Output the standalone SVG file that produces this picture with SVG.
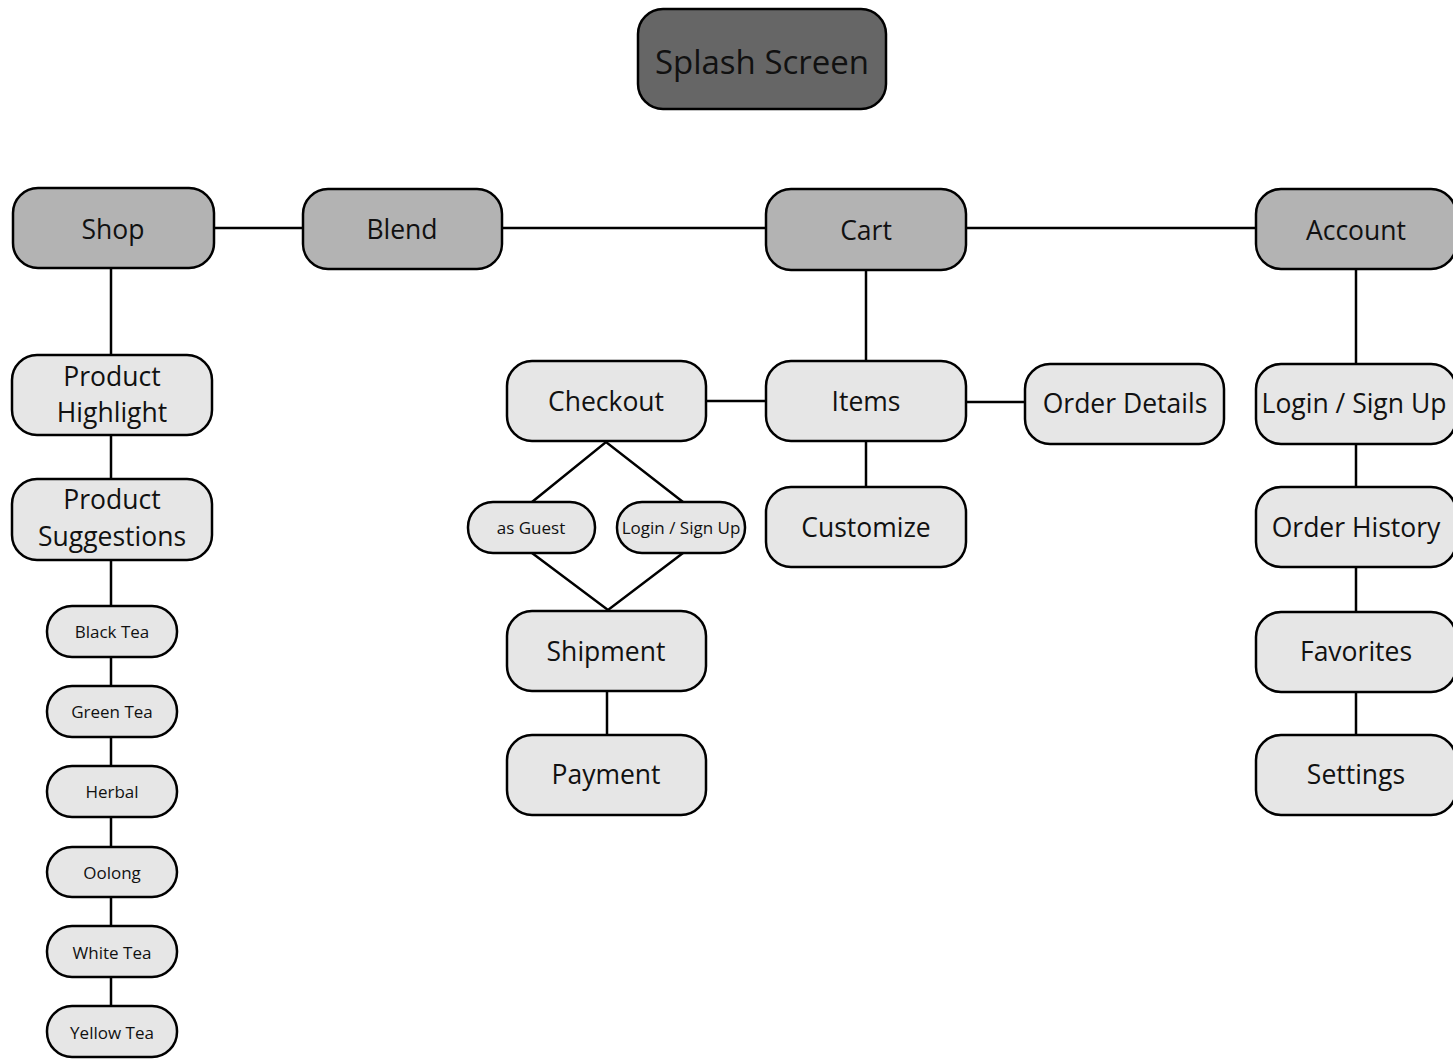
<svg xmlns="http://www.w3.org/2000/svg" width="1453" height="1059" viewBox="0 0 1453 1059">
<style>
.n rect{stroke:#000;stroke-width:2.5}
.d rect{fill:#666}
.m rect{fill:#b3b3b3}
.l rect{fill:#e6e6e6}
text{font-family:"Open Sans","Liberation Sans",sans-serif;fill:#111;text-anchor:middle;dominant-baseline:central}
.big{font-size:33px}
.mid{font-size:26.5px}
.sm{font-size:17px}
.c line,.c path{stroke:#000;stroke-width:2.5;fill:none}
</style>
<rect width="1453" height="1059" fill="#fff"/>
<g class="c" id="connectors">
<line x1="214" y1="228" x2="303" y2="228"/>
<line x1="502" y1="228" x2="766" y2="228"/>
<line x1="966" y1="228" x2="1256" y2="228"/>
<line x1="111" y1="268" x2="111" y2="355"/>
<line x1="111" y1="435" x2="111" y2="479"/>
<line x1="111" y1="560" x2="111" y2="1006"/>
<line x1="866" y1="270" x2="866" y2="361"/>
<line x1="706" y1="401" x2="766" y2="401"/>
<line x1="966" y1="402" x2="1025" y2="402"/>
<line x1="866" y1="441" x2="866" y2="487"/>
<line x1="1356" y1="269" x2="1356" y2="364"/>
<line x1="1356" y1="444" x2="1356" y2="735"/>
<path d="M532 502 L606 442 L683 502"/>
<path d="M532 553 L608 610 L683 553"/>
<line x1="607" y1="691" x2="607" y2="735"/>
</g>
<g id="splash" class="n d"><rect x="638" y="9" width="248" height="100" rx="25"/><text class="big" x="762" y="61">Splash Screen</text></g>
<g id="shop" class="n m"><rect x="13" y="188" width="201" height="80" rx="25"/><text class="mid" x="113" y="229">Shop</text></g>
<g id="blend" class="n m"><rect x="303" y="189" width="199" height="80" rx="25"/><text class="mid" x="402" y="229">Blend</text></g>
<g id="cart" class="n m"><rect x="766" y="189" width="200" height="81" rx="25"/><text class="mid" x="866" y="230">Cart</text></g>
<g id="account" class="n m"><rect x="1256" y="189" width="200" height="80" rx="25"/><text class="mid" x="1356" y="230">Account</text></g>
<g id="product-highlight" class="n l"><rect x="12" y="355" width="200" height="80" rx="25"/><text class="mid" x="112" y="376">Product</text><text class="mid" x="112" y="412">Highlight</text></g>
<g id="product-suggestions" class="n l"><rect x="12" y="479" width="200" height="81" rx="25"/><text class="mid" x="112" y="499">Product</text><text class="mid" x="112" y="536">Suggestions</text></g>
<g id="black-tea" class="n l"><rect x="47" y="606" width="130" height="51" rx="25"/><text class="sm" x="112" y="631">Black Tea</text></g>
<g id="green-tea" class="n l"><rect x="47" y="686" width="130" height="51" rx="25"/><text class="sm" x="112" y="711">Green Tea</text></g>
<g id="herbal" class="n l"><rect x="47" y="766" width="130" height="51" rx="25"/><text class="sm" x="112" y="791">Herbal</text></g>
<g id="oolong" class="n l"><rect x="47" y="847" width="130" height="50" rx="25"/><text class="sm" x="112" y="872">Oolong</text></g>
<g id="white-tea" class="n l"><rect x="47" y="926" width="130" height="51" rx="25"/><text class="sm" x="112" y="952">White Tea</text></g>
<g id="yellow-tea" class="n l"><rect x="47" y="1006" width="130" height="51" rx="25"/><text class="sm" x="112" y="1032">Yellow Tea</text></g>
<g id="checkout" class="n l"><rect x="507" y="361" width="199" height="80" rx="25"/><text class="mid" x="606" y="401">Checkout</text></g>
<g id="items" class="n l"><rect x="766" y="361" width="200" height="80" rx="25"/><text class="mid" x="866" y="401">Items</text></g>
<g id="order-details" class="n l"><rect x="1025" y="364" width="199" height="80" rx="25"/><text class="mid" x="1125" y="403">Order Details</text></g>
<g id="customize" class="n l"><rect x="766" y="487" width="200" height="80" rx="25"/><text class="mid" x="866" y="527">Customize</text></g>
<g id="as-guest" class="n l"><rect x="468" y="502" width="127" height="51" rx="25"/><text class="sm" x="531" y="527">as Guest</text></g>
<g id="login-small" class="n l"><rect x="617" y="502" width="128" height="51" rx="25"/><text class="sm" x="681" y="527">Login / Sign Up</text></g>
<g id="shipment" class="n l"><rect x="507" y="611" width="199" height="80" rx="25"/><text class="mid" x="606" y="651">Shipment</text></g>
<g id="payment" class="n l"><rect x="507" y="735" width="199" height="80" rx="25"/><text class="mid" x="606" y="774">Payment</text></g>
<g id="login" class="n l"><rect x="1256" y="364" width="200" height="80" rx="25"/><text class="mid" x="1354" y="403">Login / Sign Up</text></g>
<g id="order-history" class="n l"><rect x="1256" y="487" width="200" height="80" rx="25"/><text class="mid" x="1356" y="527">Order History</text></g>
<g id="favorites" class="n l"><rect x="1256" y="612" width="200" height="80" rx="25"/><text class="mid" x="1356" y="651">Favorites</text></g>
<g id="settings" class="n l"><rect x="1256" y="735" width="200" height="80" rx="25"/><text class="mid" x="1356" y="774">Settings</text></g>
</svg>
